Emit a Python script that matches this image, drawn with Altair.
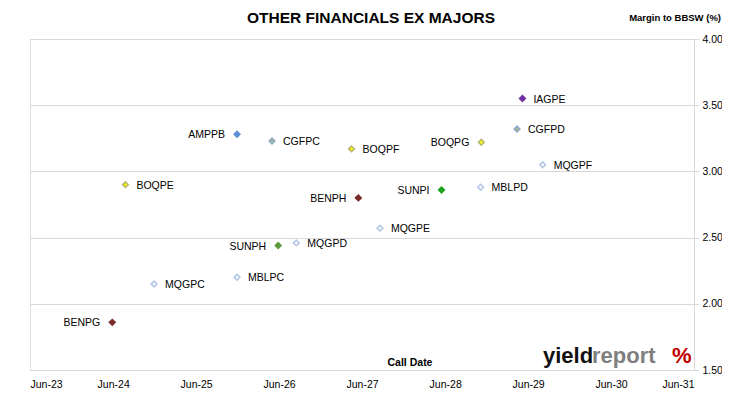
import altair as alt
import pandas as pd

# ---- data ----
names = ["IAGPE", "CGFPD", "AMPPB", "CGFPC", "BOQPF", "BOQPG", "MQGPF", "BOQPE", "SUNPI",
         "MBLPD", "BENPH", "MQGPE", "SUNPH", "MQGPD", "MBLPC", "MQGPC", "BENPG"]
call_dates = ["2029-05-07", "2029-04-13", "2025-11-28", "2026-05-01", "2027-04-16", "2028-11-07",
              "2029-08-04", "2024-07-25", "2028-05-16", "2028-11-04", "2027-05-16", "2027-08-19",
              "2026-05-28", "2026-08-16", "2025-11-28", "2024-11-28", "2024-05-28"]
margins = [3.55, 3.32, 3.28, 3.23, 3.17, 3.22, 3.05, 2.90, 2.86,
           2.88, 2.80, 2.57, 2.44, 2.46, 2.20, 2.15, 1.86]
tick_years = [2023, 2024, 2025, 2026, 2027, 2028, 2029, 2030, 2031]
y_ticks = [1.50, 1.75, 2.00, 2.25, 2.50, 2.75, 3.00, 3.25, 3.50, 3.75, 4.00]

# ---- styling ----
left_labelled = {"AMPPB", "BOQPG", "BENPH", "SUNPI", "SUNPH", "BENPG"}
fill_of = {
    "IAGPE": "#7030A0", "CGFPD": "#A9B98C", "AMPPB": "#5A8ED6", "CGFPC": "#A9B98C",
    "BOQPF": "#FFFF00", "BOQPG": "#FFFF00", "BOQPE": "#FFFF00", "MQGPF": "#FFFFFF",
    "SUNPI": "#1FA21F", "MBLPD": "#FFFFFF", "BENPH": "#7A2B2B", "MQGPE": "#FFFFFF",
    "SUNPH": "#5E9A3C", "MQGPD": "#FFFFFF", "MBLPC": "#FFFFFF", "MQGPC": "#FFFFFF",
    "BENPG": "#7A2B2B",
}
stroke_of = {
    "IAGPE": "#7030A0", "CGFPD": "#8FA9C6", "AMPPB": "#5A8ED6", "CGFPC": "#8FA9C6",
    "BOQPF": "#B8B870", "BOQPG": "#B8B870", "BOQPE": "#B8B870", "MQGPF": "#B4C7E7",
    "SUNPI": "#1FA21F", "MBLPD": "#B4C7E7", "BENPH": "#7A2B2B", "MQGPE": "#B4C7E7",
    "SUNPH": "#5E9A3C", "MQGPD": "#B4C7E7", "MBLPC": "#B4C7E7", "MQGPC": "#B4C7E7",
    "BENPG": "#7A2B2B",
}
size_of = {n: 32 for n in names}
size_of["AMPPB"] = 64

df = pd.DataFrame({
    "name": names,
    "date": [d + "T00:00:00" for d in call_dates],
    "margin": margins,
    "side": ["left" if n in left_labelled else "right" for n in names],
})

FONT = "Liberation Sans"
W, H = 664, 331

x_enc = alt.X(
    "date:T",
    scale=alt.Scale(domain=[alt.DateTime(year=2023, month=6, date=1),
                            alt.DateTime(year=2031, month=6, date=1)]),
    axis=alt.Axis(
        values=[alt.DateTime(year=yv, month=6, date=1) for yv in tick_years],
        format="%b-%y", title=None, grid=False, domain=False, ticks=False,
        labelPadding=9, labelFont=FONT, labelFontSize=10.5, labelColor="#000000",
    ),
)
y_enc = alt.Y(
    "margin:Q",
    scale=alt.Scale(domain=[1.5, 4.0], nice=False, zero=False),
    axis=alt.Axis(
        orient="right", values=y_ticks, format=".2f", title=None,
        grid=True, gridColor="#D9D9D9", domainColor="#D9D9D9", tickColor="#D9D9D9",
        tickSize=5, labelPadding=3, labelFont=FONT, labelFontSize=10.5, labelColor="#000000",
    ),
)

points = alt.Chart(df).mark_point(shape="diamond", filled=True, opacity=1).encode(
    x=x_enc, y=y_enc,
    fill=alt.Fill("name:N", scale=alt.Scale(domain=names, range=[fill_of[n] for n in names]), legend=None),
    stroke=alt.Stroke("name:N", scale=alt.Scale(domain=names, range=[stroke_of[n] for n in names]), legend=None),
    size=alt.Size("name:N", scale=alt.Scale(domain=names, range=[size_of[n] for n in names]), legend=None),
    strokeWidth=alt.value(1.6),
)

labels_r = alt.Chart(df).transform_filter("datum.side == 'right'").mark_text(
    align="left", baseline="middle", dx=11, dy=1, font=FONT, fontSize=10.5, color="#000000"
).encode(x="date:T", y="margin:Q", text="name:N")

labels_l = alt.Chart(df).transform_filter("datum.side == 'left'").mark_text(
    align="right", baseline="middle", dx=-12, dy=1, font=FONT, fontSize=10.5, color="#000000"
).encode(x="date:T", y="margin:Q", text="name:N")

one = pd.DataFrame({"a": [0]})


def deco(txt, px, py, **kw):
    return alt.Chart(one).mark_text(**kw).encode(
        x=alt.value(px), y=alt.value(py), text=alt.value(txt))


title = deco("OTHER FINANCIALS EX MAJORS", 341, -21, font=FONT, fontSize=15.5,
             fontWeight="bold", align="center", baseline="middle", color="#000000")
ytitle = deco("Margin to BBSW (%)", 691, -21, font=FONT, fontSize=9.5,
              fontWeight="bold", align="right", baseline="middle", color="#000000")
xtitle = deco("Call Date", 380, 324, font=FONT, fontSize=10.5,
              fontWeight="bold", align="center", baseline="middle", color="#000000")
logo1 = deco("yield", 513, 324, font=FONT, fontSize=22, fontWeight="bold",
             align="left", baseline="alphabetic", color="#111111")
logo2 = deco("report", 562, 324, font=FONT, fontSize=22, fontWeight="bold",
             align="left", baseline="alphabetic", color="#7F7F7F")
logo3 = deco("%", 642, 324, font=FONT, fontSize=22, fontWeight="bold",
             align="left", baseline="alphabetic", color="#C00000")

chart = alt.layer(points, labels_r, labels_l, title, ytitle, xtitle, logo1, logo2, logo3).properties(
    width=W, height=H,
    autosize=alt.AutoSizeParams(type="none"),
    padding={"left": 22, "top": 31, "right": 28, "bottom": 20},
).configure_view(stroke="#D9D9D9", strokeWidth=1).configure(background="#FFFFFF")

chart.save("out.html", embed_options={"renderer": "svg", "actions": False})
